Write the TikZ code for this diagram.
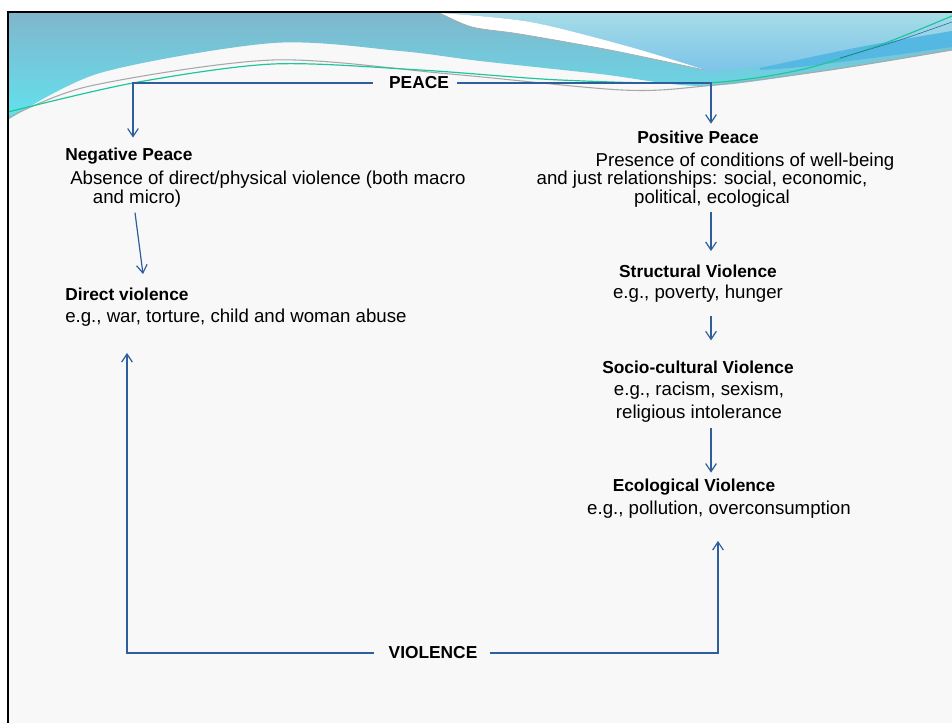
\documentclass[tikz,border=0pt]{standalone}
\usepackage{fontspec}
\setmainfont{Liberation Sans}
\usetikzlibrary{arrows.meta,positioning}
\definecolor{arrblue}{HTML}{2F5E9C}
\definecolor{skytop}{HTML}{80B6CC}
\definecolor{skybot}{HTML}{62E2EE}
\definecolor{paletop}{HTML}{A6DCE6}
\definecolor{palebot}{HTML}{7CC3EA}
\definecolor{deepband}{HTML}{55B8E2}
\definecolor{wavegreen}{HTML}{1EC79B}
\definecolor{wavegray}{HTML}{A8A8A8}
\definecolor{slidebg}{HTML}{F8F8F8}
\tikzset{
  headtxt/.style={inner sep=0pt,font=\fontsize{13}{14}\selectfont\bfseries},
  bodytxt/.style={inner sep=0pt,font=\fontsize{14}{14}\selectfont},
  flowarr/.style={-{Straight Barb[length=6pt,width=8pt]},arrblue,line width=0.9pt},
}

\begin{document}
\begin{tikzpicture}[x=0.75pt,y=-0.75pt]
  \useasboundingbox (0,0) rectangle (952,723);
  \fill[white] (0,0) rectangle (952,723);
  \fill[slidebg] (8,12) rectangle (952,723);
  % top wave
  \shade[top color=skytop,bottom color=skybot] (8,13) -- (952,13) -- (952,50)
    -- plot[smooth] coordinates {(952,50) (830,70) (705,86) (600,74) (480,61) (400,51) (273,43) (100,73) (8,120)} -- cycle;
  \shade[top color=paletop,bottom color=palebot] (440,13) -- (952,13) -- (952,33)
    -- plot[smooth] coordinates {(952,33) (880,48) (800,62) (705,72)}
    -- plot[smooth] coordinates {(705,70) (630,47) (530,22) (440,13)} -- cycle;
  \fill[deepband] plot[smooth] coordinates {(760,68) (860,47) (952,31)} -- (952,47)
    -- plot[smooth] coordinates {(952,47) (880,57) (800,67) (760,70)} -- cycle;
  \fill[white] plot[smooth] coordinates {(440,13) (530,22) (630,47) (705,70)}
    -- plot[smooth] coordinates {(705,70) (610,50) (520,34) (472,27) (440,13)} -- cycle;
  \draw[wavegray,line width=0.5pt] plot[smooth] coordinates {(705,70) (610,50) (520,34) (472,27) (440,13)};
  \draw[wavegray,line width=0.8pt] plot[smooth] coordinates {(8,118) (90,86) (273,60) (450,74) (622,90) (705,86) (830,70) (952,50)};
  \draw[wavegreen,line width=0.9pt] plot[smooth] coordinates {(8,112) (133,83) (273,64) (420,70) (560,80) (705,83) (800,70) (880,45) (952,16)};
  \draw[arrblue,line width=0.4pt] plot[smooth] coordinates {(840,58) (900,40) (952,22)};
  % slide frame
  \draw[black,line width=1.6pt] (8,723) -- (8,12) -- (952,12);

  \coordinate (nx) at (133,0);
  \coordinate (lx) at (127,0);
  \coordinate (rx) at (711,0);
  \coordinate (rxb) at (718,0);

  \node[headtxt] (peace) at (419,83) {PEACE};
  \node[headtxt,anchor=west] (negtitle) at (65,156) {Negative Peace};
  \node[bodytxt,anchor=west,align=left] (absence) at (70,189)
    {Absence of direct/physical violence (both macro\\\hspace*{17pt}and micro)};
  \node[headtxt,anchor=west] (dirtitle) at (65,294) {Direct violence};
  \node[bodytxt,anchor=west] (direx) at (65,318) {e.g., war, torture, child and woman abuse};

  \node[headtxt] (postitle) at (698,137) {Positive Peace};
  \node[bodytxt,align=center] (presence) at (702,180)
    {\hspace*{64.5pt}Presence of conditions of well-being\\and just relationships: social, economic,\\\hspace*{15pt}political, ecological};
  \node[headtxt] (structitle) at (698,271) {Structural Violence};
  \node[bodytxt] (structex) at (698,294) {e.g., poverty, hunger};
  \node[headtxt] (sociotitle) at (698,367) {Socio-cultural Violence};
  \node[bodytxt,align=center,font=\fontsize{14}{17.25}\selectfont] (socioex) at (699,402)
    {e.g., racism, sexism,\\religious intolerance};
  \node[headtxt] (ecotitle) at (694,487) {Ecological Violence};
  \node[bodytxt] (ecoex) at (719,510) {e.g., pollution, overconsumption};
  \node[headtxt] (violence) at (433,653) {VIOLENCE};

  \draw[flowarr,shorten <=12pt,shorten >=7.5pt] (peace.west) -| (nx |- negtitle.north);
  \draw[flowarr,shorten <=6pt,shorten >=5pt] (peace.east) -| (rx |- postitle.north);
  \draw[flowarr] ([xshift=48.75pt,yshift=-4pt]absence.south west) -- ([xshift=58.5pt,yshift=10pt]dirtitle.north west);
  \draw[flowarr,shorten <=3pt,shorten >=10pt] (rx |- presence.south) -- (rx |- structitle.north);
  \draw[flowarr,shorten <=10pt,shorten >=15pt] (rx |- structex.south) -- (rx |- sociotitle.north);
  \draw[flowarr,shorten <=4.5pt,shorten >=4.5pt] (rx |- socioex.south) -- (rx |- ecotitle.north);
  \draw[flowarr,shorten <=11pt,shorten >=19.5pt] (violence.west) -| (lx |- direx.south);
  \draw[flowarr,shorten <=9pt,shorten >=16.5pt] (violence.east) -| (rxb |- ecoex.south);
\end{tikzpicture}
\end{document}
